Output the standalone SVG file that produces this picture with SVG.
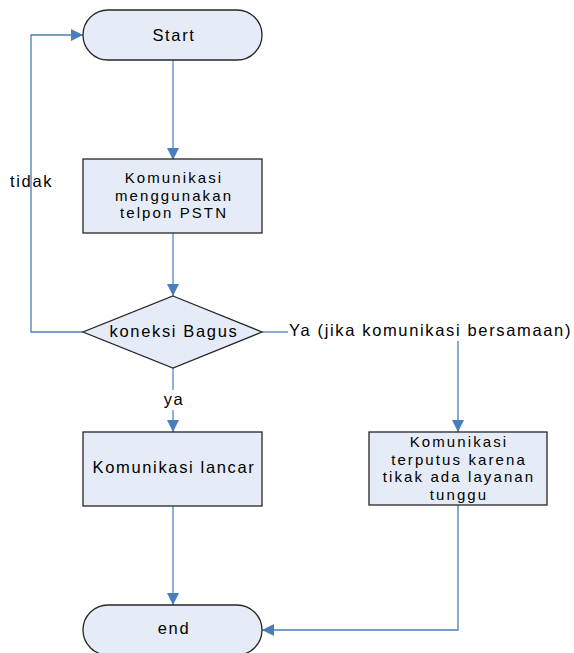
<svg xmlns="http://www.w3.org/2000/svg" width="574" height="653" viewBox="0 0 574 653">
<style>
.n{fill:#e6ecf7;stroke:#262626;stroke-width:1.3}
.t{font-family:"Liberation Sans",Arial,sans-serif;font-size:16.5px;letter-spacing:1.65px;fill:#000;text-anchor:middle}
.s{font-size:15px;letter-spacing:2.1px}
.c{fill:none;stroke:#4a7ebb;stroke-width:1.3}
.c2{fill:none;stroke:#8eb1dd;stroke-width:2}
</style>
<defs>
<marker id="a" viewBox="0 0 10 10" refX="10" refY="5" markerWidth="12" markerHeight="12" markerUnits="userSpaceOnUse" orient="auto">
<path d="M0,0 L10,5 L0,10 z" fill="#4a7ebb"/>
</marker>
</defs>
<g id="connectors">
<path class="c2" d="M173,60 V160" marker-end="url(#a)"/>
<path class="c2" d="M173,233 V296" marker-end="url(#a)"/>
<path class="c" d="M83,332 H31 V35 H83" marker-end="url(#a)"/>
<path class="c" d="M262,332 H288"/>
<path class="c" d="M458,341 V432" marker-end="url(#a)"/>
<path class="c2" d="M173,368 V390"/>
<path class="c2" d="M173,410 V432" marker-end="url(#a)"/>
<path class="c2" d="M173,506 V605" marker-end="url(#a)"/>
<path class="c" d="M458,505 V630 H262" marker-end="url(#a)"/>
<text class="t" x="10" y="187" style="text-anchor:start">tidak</text>
<text class="t" x="289" y="336" style="text-anchor:start">Ya (jika komunikasi bersamaan)</text>
<text class="t" x="174" y="405">ya</text>
</g>
<g id="start">
<rect class="n" x="83" y="10" width="179" height="50" rx="25" ry="25"/>
<text class="t" x="174" y="41">Start</text>
</g>
<g id="pstn">
<rect class="n" x="83" y="159" width="179" height="74"/>
<text class="t s" x="174" y="183">Komunikasi</text>
<text class="t s" x="174" y="200.5">menggunakan</text>
<text class="t s" x="174" y="218">telpon PSTN</text>
</g>
<g id="decision">
<polygon class="n" points="173,296 262,332 173,368 83,332"/>
<text class="t" x="174" y="337">koneksi Bagus</text>
</g>
<g id="lancar">
<rect class="n" x="83" y="432" width="179" height="74"/>
<text class="t" x="174" y="473">Komunikasi lancar</text>
</g>
<g id="putus">
<rect class="n" x="369" y="432" width="178" height="73"/>
<text class="t s" x="459" y="447">Komunikasi</text>
<text class="t s" x="459" y="464.5">terputus karena</text>
<text class="t s" x="459" y="482">tikak ada layanan</text>
<text class="t s" x="459" y="499.5">tunggu</text>
</g>
<g id="end">
<rect class="n" x="83" y="605" width="179" height="50" rx="25" ry="25"/>
<text class="t" x="174" y="634">end</text>
</g>
</svg>
